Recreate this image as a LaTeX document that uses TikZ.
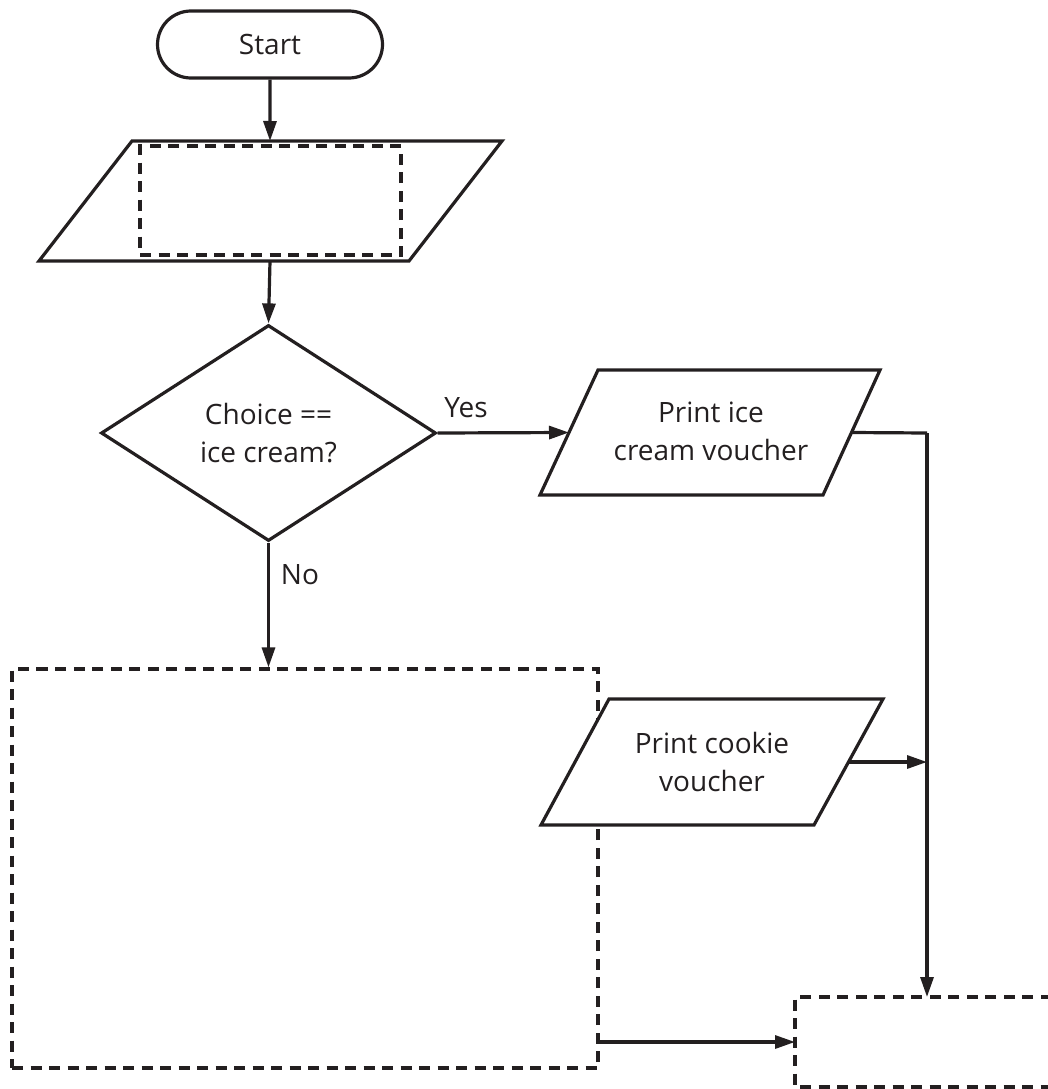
\documentclass[tikz,border=0pt]{standalone}
\usepackage{fontspec}
\setmainfont{Open Sans}
\usetikzlibrary{arrows.meta,shapes.geometric,shapes.misc}
\definecolor{ink}{HTML}{231F20}
\begin{document}
\begin{tikzpicture}[x=1pt,y=-1pt,
  every node/.style={text=ink,font=\fontsize{28}{38}\selectfont},
  ln/.style={draw=ink,line width=3.2pt},
  flow/.style={ln,-{Triangle[length=20pt,width=13pt]}},
  dashbox/.style={ln,dash pattern=on 11pt off 7.5pt,rectangle,inner sep=0pt},
  label/.style={inner sep=0pt,align=center}]
\useasboundingbox (0,0) rectangle (1047,1089);
% start
\node[rounded rectangle,ln,minimum width=225pt,minimum height=67pt,inner sep=0pt] (start) at (270,44.5) {Start};
% input parallelogram
\draw[ln] (132,141) -- (502,141) -- (409,261) -- (39,261) -- cycle;
\coordinate (intop) at (270,141);
\coordinate (inbot) at (270,261);
\node[dashbox,minimum width=261pt,minimum height=109pt] (inbox) at (270.5,200.5) {};
% decision
\node[diamond,ln,minimum width=335pt,minimum height=216pt,inner sep=0pt,align=center] (dec) at (268.5,433) {Choice ==\\ice cream?};
% ice cream voucher
\draw[ln] (598,370) -- (880,370) -- (823,495) -- (540,495) -- cycle;
\node[label] (ice) at (711,431) {Print ice\\cream voucher};
\coordinate (iceL) at (569,432.5);
\coordinate (iceR) at (851.5,432.5);
% big dashed box
\node[dashbox,minimum width=586pt,minimum height=399pt] (big) at (305,868.5) {};
% cookie voucher
\draw[ln,fill=white] (609,699) -- (883,699) -- (814,825) -- (541,825) -- cycle;
\node[label] (cookie) at (712,762) {Print cookie\\voucher};
\coordinate (cookR) at (848.5,762);
% end box
\draw[ln,dash pattern=on 11pt off 7.5pt] (1070,997) -- (795,997) -- (795,1087) -- (1070,1087);
\coordinate (endtop) at (927,997);
\coordinate (endL) at (795,1042);
\coordinate (join) at (927,433);
\coordinate (join2) at (927,762);
% connectors
\draw[flow] (start) -- (intop);
\draw[flow] (inbot) -- (dec.north);
\draw[flow] (dec.east) -- (iceL);
\draw[ln] (iceR) -- (join);
\draw[flow] (join) -- (endtop);
\draw[flow] (cookR) -- (join2);
\draw[flow] (dec.south) -- (big.north -| dec.south);
\draw[flow] (big.east |- endL) -- (endL);
% labels
\node[label,anchor=base] (yes) at (466,417) {Yes};
\node[label,anchor=base] (no) at (300,584) {No};
\end{tikzpicture}
\end{document}
